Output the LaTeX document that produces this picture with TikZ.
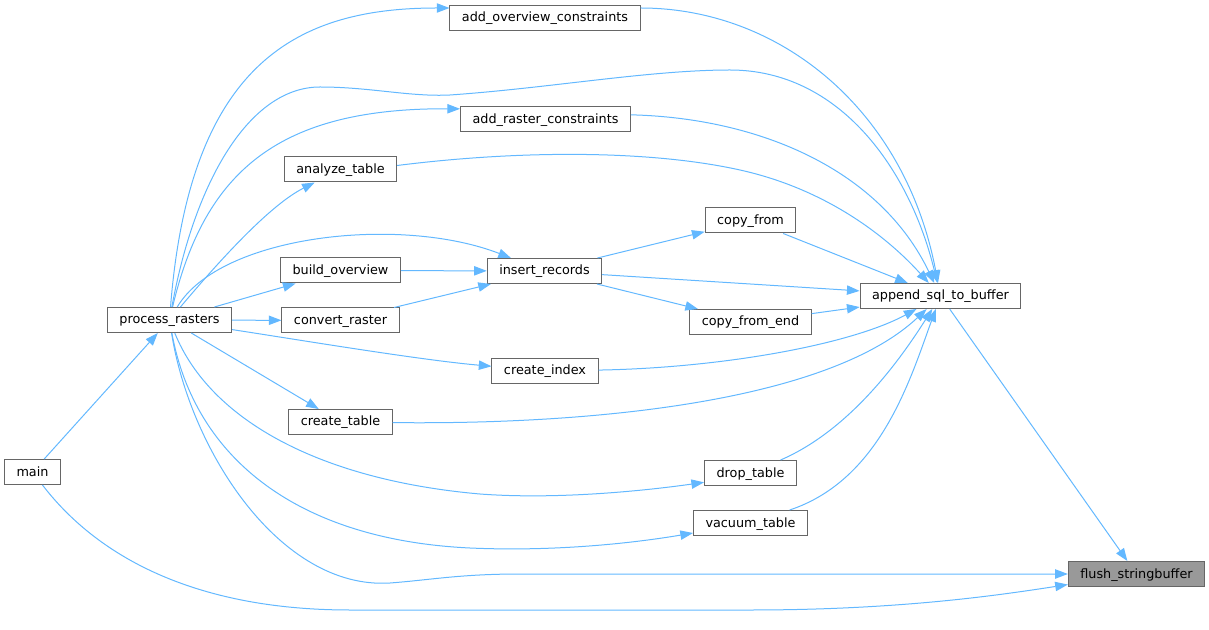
\documentclass[tikz,border=0pt]{standalone}
\usepackage{fontspec}
\setmainfont{DejaVu Sans}
\usetikzlibrary{arrows.meta}
\definecolor{edgeblue}{HTML}{63B8FF}
\definecolor{boxgray}{HTML}{666666}
\definecolor{hereFill}{HTML}{999999}
\begin{document}
\begin{tikzpicture}[x=0.75pt,y=-0.75pt,
  fn/.style={draw=boxgray,line width=0.75pt,fill=white,minimum height=18.75pt,
    inner xsep=9pt,inner ysep=0pt,text height=7.5pt,text depth=1.5pt,
    font=\fontsize{9.6}{11}\selectfont},
  call/.style={edgeblue,line width=0.75pt,-{Triangle[length=9.5pt,width=7pt]}}]
\useasboundingbox (0,0) rectangle (1209,630);

% functions, one column after the other
\node[fn] (main)     at (32.5,472)   {main};
\node[fn] (procras)  at (169.5,320)  {process\_rasters};
\node[fn] (analyze)  at (340.5,169.5){analyze\_table};
\node[fn] (buildov)  at (340.5,270.5){build\_overview};
\node[fn] (convras)  at (340.5,320.5){convert\_raster};
\node[fn] (crtable)  at (340.5,422)  {create\_table};
\node[fn] (addov)    at (545,18)     {add\_overview\_constraints};
\node[fn] (addras)   at (545.5,119.5){add\_raster\_constraints};
\node[fn] (insrec)   at (544.5,271)  {insert\_records};
\node[fn] (crindex)  at (545,371)    {create\_index};
\node[fn] (copyfrom) at (750.5,220.5){copy\_from};
\node[fn] (copyend)  at (750.5,322)  {copy\_from\_end};
\node[fn] (droptab)  at (750.5,473)  {drop\_table};
\node[fn] (vactab)   at (750.5,523)  {vacuum\_table};
\node[fn] (append)   at (940.5,296)  {append\_sql\_to\_buffer};
\node[fn,fill=hereFill] (flush) at (1136.5,574) {flush\_stringbuffer};

% callers of process_rasters
\draw[call] (main) -- (procras);
\draw[call] (main) .. controls (100,560) and (200,610) .. (350,610) -- (750,610)
  .. controls (900,610) and (1000,595) .. (flush);

% process_rasters calls
\draw[call] (procras) .. controls (190,60) and (300,8) .. ([yshift=7.5pt]addov.west);
\draw[call] (procras) .. controls (205,170) and (280,108) .. ([yshift=8pt]addras.west);
\draw[call] (procras) .. controls (220,260) and (270,205) .. (analyze);
\draw[call] (procras) .. controls (220,235) and (400,215) .. (insrec);
\draw[call] (procras) -- (buildov);
\draw[call] (procras) -- (convras);
\draw[call] (procras) .. controls (300,340) and (420,360) .. (crindex);
\draw[call] (procras) -- (crtable);
\draw[call] (procras) .. controls (210,420) and (320,480) .. (480,494)
  .. controls (560,500) and (650,490) .. ([yshift=-7pt]droptab.west);
\draw[call] (procras) .. controls (195,460) and (300,540) .. (470,548)
  .. controls (560,552) and (640,542) .. ([yshift=-7.5pt]vactab.west);
\draw[call] (procras) .. controls (190,450) and (280,590) .. (390,583)
  .. controls (430,580) and (460,574) .. (520,574) -- (flush);
\draw[call] (procras) .. controls (195,180) and (250,87) .. (320,87)
  .. controls (370,87) and (410,97) .. (450,95)
  .. controls (550,88) and (650,70) .. (730,70)
  .. controls (840,70) and (910,170) .. (append);

% insert_records and its callees
\draw[call] (buildov) -- (insrec);
\draw[call] (convras) -- (insrec);
\draw[call] (insrec) -- (copyfrom);
\draw[call] (insrec) -- (copyend);
\draw[call] (insrec) -- (append);

% into append_sql_to_buffer
\draw[call] ([yshift=7.5pt]addov.east) .. controls (780,8) and (905,110) .. (append);
\draw[call] ([yshift=3.5pt]addras.east) .. controls (760,118) and (880,170) .. (append);
\draw[call] ([yshift=3pt]analyze.east) .. controls (520,150) and (650,150) .. (740,170)
  .. controls (830,190) and (890,240) .. (append);
\draw[call] (copyfrom) -- (append);
\draw[call] (copyend) -- (append);
\draw[call] (crindex) .. controls (720,368) and (850,345) .. (append);
\draw[call] (crtable) .. controls (600,425) and (830,400) .. (append);
\draw[call] (droptab) .. controls (850,430) and (900,360) .. (append);
\draw[call] (vactab) .. controls (880,480) and (910,380) .. (append);

\draw[call] (append) -- (flush);
\end{tikzpicture}
\end{document}
